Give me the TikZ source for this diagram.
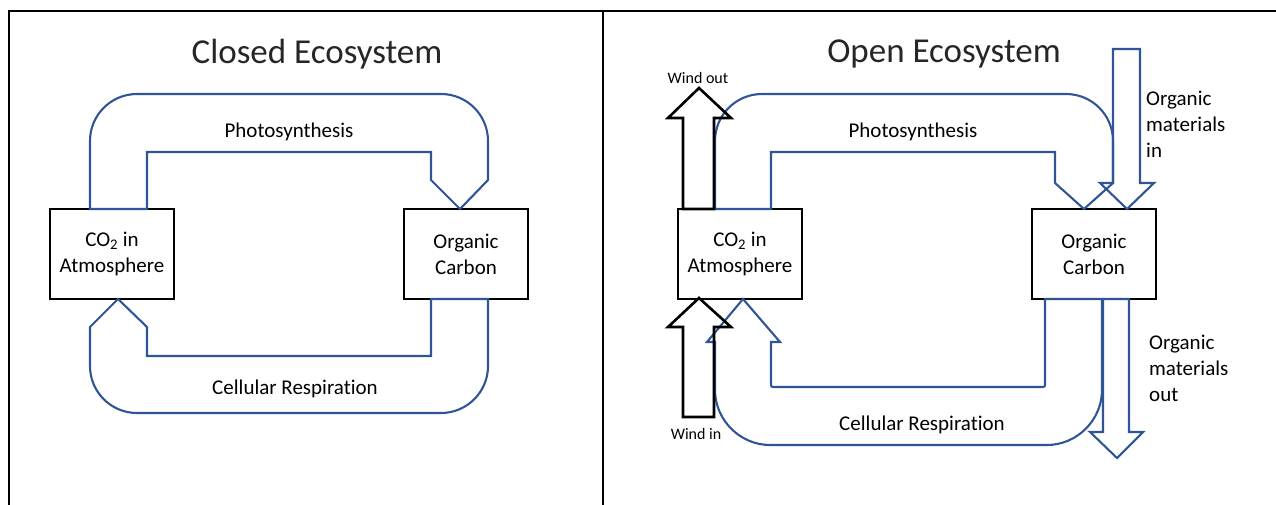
\documentclass[tikz,border=0pt]{standalone}
\usepackage{fontspec}
\setmainfont{Carlito}[Ligatures=NoCommon]
\definecolor{flowblue}{RGB}{47,85,151}
\tikzset{
  box/.style={draw, line width=2.6pt, minimum width=124pt, minimum height=90pt, inner sep=0pt, align=center, font=\fontsize{21}{26}\selectfont},
  flow/.style={draw=flowblue, line width=2.1pt, line join=miter},
  wind/.style={draw=black, line width=2.6pt, line join=miter},
  lbl/.style={font=\fontsize{21}{26}\selectfont, inner sep=0pt},
  ttl/.style={font=\fontsize{35}{42}\selectfont, inner sep=0pt, text=black!85},
  windlbl/.style={font=\fontsize{16}{19}\selectfont, inner sep=0pt}
}
\begin{document}
\begin{tikzpicture}[x=1pt,y=-1pt]
\useasboundingbox (0,0) rectangle (1276,505);
% table frame
\draw[line width=1.6pt] (9,505) -- (9,11) -- (1276,11);
\draw[line width=1.6pt] (603,11) -- (603,505);

% closed ecosystem
\node[ttl] (titleL) at (317,54) {Closed Ecosystem};
\node[box] (co2L) at (112,254) {CO\textsubscript{2} in\\Atmosphere};
\node[box] (orgL) at (466,254) {Organic\\Carbon};
\draw[flow] (90,209) -- (90,141) .. controls (90,115) and (111,94) .. (137,94) -- (441,94)
  .. controls (467,94) and (488,115) .. (488,141) -- (488,180) -- (460,209) -- (431,180)
  -- (431,152) -- (147,152) -- (147,209) -- cycle;
\draw[flow] (488,299) -- (488,366) .. controls (488,392) and (467,413) .. (441,413) -- (137,413)
  .. controls (111,413) and (90,392) .. (90,366) -- (90,327) -- (118,299) -- (147,327)
  -- (147,356) -- (431,356) -- (431,299) -- cycle;
\node[lbl] (photoL) at (289,132) {Photosynthesis};
\node[lbl] (respL) at (295,389) {Cellular Respiration};

% open ecosystem
\node[ttl] (titleR) at (944,54) {Open Ecosystem};
\node[box] (co2R) at (740,254) {CO\textsubscript{2} in\\Atmosphere};
\node[box] (orgR) at (1094,254) {Organic\\Carbon};
\draw[flow] (715,209) -- (715,141) .. controls (715,115) and (736,94) .. (762,94) -- (1066,94)
  .. controls (1092,94) and (1113,115) .. (1113,141) -- (1113,183) -- (1084,209) -- (1055,183)
  -- (1055,152) -- (771,152) -- (771,209) -- cycle;
\draw[flow] (1102,299) -- (1102,390) .. controls (1102,420) and (1077,445) .. (1047,445) -- (770,445)
  .. controls (740,445) and (715,420) .. (715,390) -- (715,342) -- (707,342) -- (743,299)
  -- (780,342) -- (771,342) -- (771,383) .. controls (771,387) .. (775,387) -- (1041,387)
  .. controls (1045,387) .. (1045,383) -- (1045,299) -- cycle;
\node[lbl] (photoR) at (913,132) {Photosynthesis};
\node[lbl] (respR) at (922,425) {Cellular Respiration};

% wind
\draw[wind] (683,209) -- (683,118) -- (668,118) -- (699,88) -- (731,118) -- (714,118) -- (714,209) -- cycle;
\draw[wind] (683,417) -- (683,327) -- (668,327) -- (699,298) -- (731,327) -- (714,327) -- (714,417) -- cycle;
\node[windlbl] (windout) at (698,78) {Wind out};
\node[windlbl] (windin) at (696,434) {Wind in};

% organic materials
\draw[flow] (1113,49) -- (1113,183) -- (1100,183) -- (1127,209) -- (1154,183) -- (1140,183) -- (1140,49) -- cycle;
\draw[flow] (1103,299) -- (1103,432) -- (1090,432) -- (1117,458) -- (1143,432) -- (1129,432) -- (1129,299) -- cycle;
\node[lbl, anchor=west, align=left] (matin) at (1146,124) {Organic\\materials\\in};
\node[lbl, anchor=west, align=left] (matout) at (1149,368) {Organic\\materials\\out};
\end{tikzpicture}
\end{document}
